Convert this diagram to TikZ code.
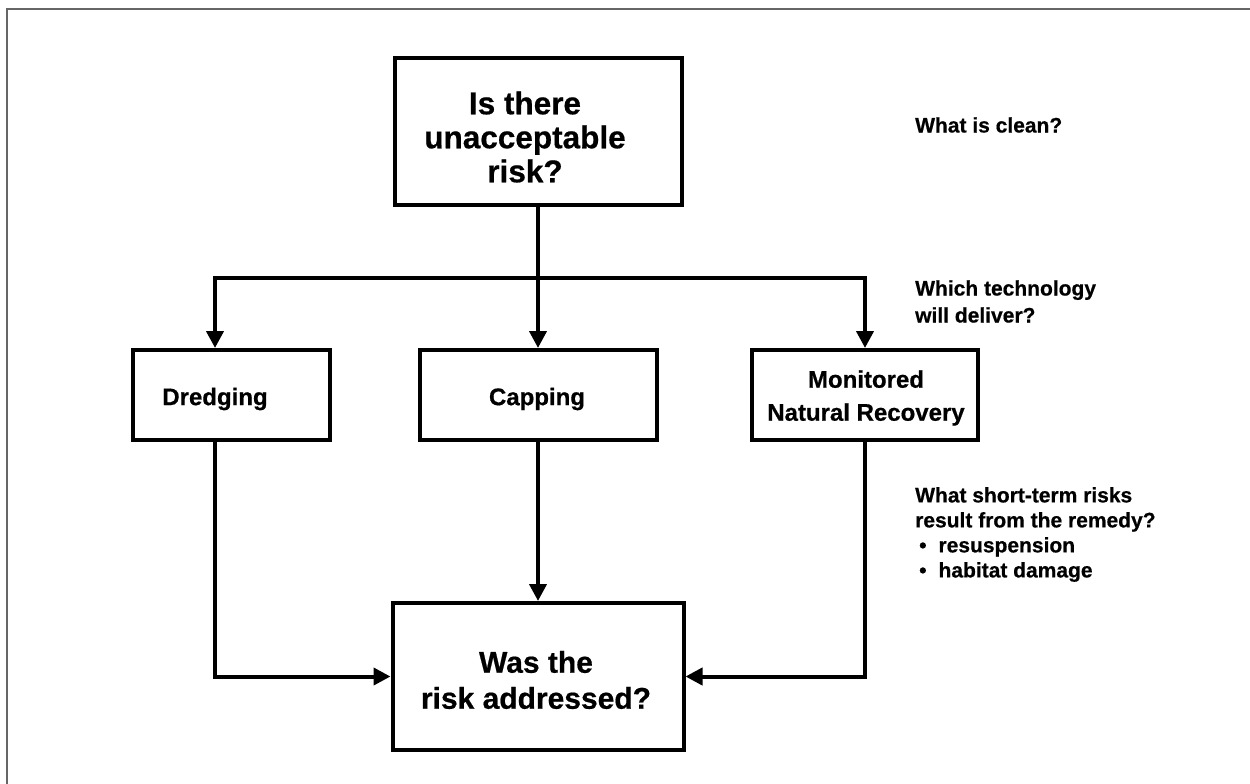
\documentclass[tikz,border=0pt]{standalone}
\usepackage{fontspec}
\setmainfont{Liberation Sans}[BoldFeatures={FakeBold=0.6}]
\usetikzlibrary{arrows.meta}
\definecolor{framegray}{HTML}{666666}
\begin{document}
\begin{tikzpicture}[x=1pt,y=-1pt,
  box/.style={draw=black, line width=4pt, inner sep=0pt},
  flow/.style={line width=4pt, -{Triangle[length=17pt,width=17pt]}},
  boxtext/.style={inner sep=0pt, align=center, font=\bfseries\fontsize{24}{33}\selectfont},
  note/.style={anchor=west, align=left, inner sep=0pt, font=\bfseries\fontsize{21}{25}\selectfont},
]
\useasboundingbox (0,0) rectangle (1250,784);
\fill[white] (0,0) rectangle (1250,784);
% page frame
\draw[line width=2.5pt, color=framegray] (7,790) -- (7,9) -- (1256,9);

% question boxes
\node[box, minimum width=287pt, minimum height=147pt] (risk) at (538,131.5) {};
\node[boxtext, font=\bfseries\fontsize{31.5}{34}\selectfont] (riskLabel) at (525,137)
      {Is there\\unacceptable\\risk?};
\node[box, minimum width=291pt, minimum height=147pt] (verdict) at (538,676.5) {};
\node[boxtext, font=\bfseries\fontsize{30}{36}\selectfont] (verdictLabel) at (536,680)
      {Was the\\risk addressed?};

% remedy boxes
\node[box, minimum width=197pt, minimum height=90pt] (dredge) at (231.5,395) {};
\node[boxtext] (dredgeLabel) at (215,399) {Dredging};
\node[box, minimum width=237pt, minimum height=90pt] (capping) at (538,395) {};
\node[boxtext] (cappingLabel) at (537,399) {Capping};
\node[box, minimum width=226pt, minimum height=90pt] (mnr) at (865,395) {};
\node[boxtext] (mnrLabel) at (866,398) {Monitored\\Natural Recovery};

% connectors
\coordinate (split) at (538,278);
\draw[flow] (risk.south) -- (capping.north);
\draw[flow] (split) -| ([xshift=-16.5pt]dredge.north);
\draw[flow] (split) -| (mnr.north);
\draw[flow] ([xshift=-16.5pt]dredge.south) |- (verdict.west);
\draw[flow] (capping.south) -- (verdict.north);
\draw[flow] (mnr.south) |- (verdict.east);

% side questions
\node[note] (clean) at (915,125) {What is clean?};
\node[note, font=\bfseries\fontsize{21}{27}\selectfont] (tech) at (915,301.5)
      {Which technology\\will deliver?};
\node[note] (shortterm) at (915,534.5)
      {What short-term risks\\result from the remedy?\\
       \hspace*{4pt}\textbullet\hspace{12pt}resuspension\\
       \hspace*{4pt}\textbullet\hspace{12pt}habitat damage};
\end{tikzpicture}
\end{document}
